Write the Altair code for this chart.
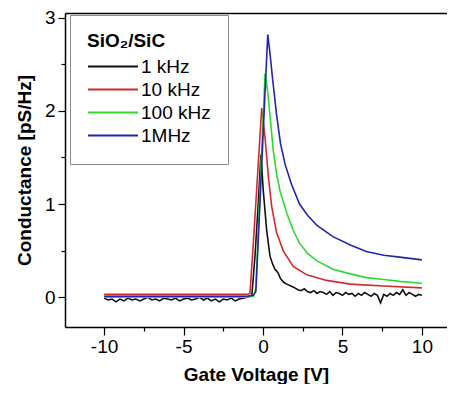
import altair as alt
import pandas as pd

series = ["1 kHz", "10 kHz", "100 kHz", "1MHz"]
colors = ["#111111", "#d02a2e", "#2fd82f", "#2323b0"]

# 1MHz (blue)
blue_v = [-10, -5, -1, -0.6, -0.45, -0.3, -0.1, 0.1, 0.3, 0.45, 0.6, 0.86, 1.1, 1.4,
          1.8, 2.3, 2.8, 3.4, 4.4, 5.5, 6.5, 7.6, 8.6, 10]
blue_g = [0.01, 0.01, 0.01, 0.02, 0.06, 0.6, 1.35, 2.09, 2.82, 2.6, 2.35, 1.95, 1.65, 1.42,
          1.21, 1.0, 0.88, 0.77, 0.65, 0.56, 0.49, 0.45, 0.43, 0.40]

# 100 kHz (green)
green_v = [-10, -5, -1, -0.6, -0.45, -0.3, -0.1, 0.13, 0.3, 0.44, 0.65, 0.85, 1.07, 1.5,
           1.9, 2.3, 2.8, 3.4, 4.4, 5.5, 6.5, 7.6, 8.6, 10]
green_g = [0.0, 0.0, 0.0, 0.01, 0.1, 0.7, 1.5, 2.40, 2.2, 1.95, 1.57, 1.33, 1.14, 0.90,
           0.72, 0.58, 0.47, 0.39, 0.30, 0.25, 0.21, 0.19, 0.17, 0.15]

# 10 kHz (red)
red_v = [-10, -5, -1, -0.82, -0.6, -0.4, -0.2, -0.08, 0.13, 0.34, 0.55, 0.86, 1.27, 1.9,
         2.76, 4.0, 5.5, 7.6, 10]
red_g = [0.03, 0.03, 0.03, 0.04, 0.6, 1.15, 1.7, 2.03, 1.71, 1.29, 0.97, 0.69, 0.50, 0.33,
         0.24, 0.18, 0.14, 0.12, 0.10]

# 1 kHz (black, noisy)
black_left_v = [-10 + 0.25 * i for i in range(37)]
black_left_g = [-0.01, -0.03, -0.02, -0.05, -0.02, -0.04, -0.01, -0.03, -0.02, -0.04,
                -0.02, 0.0, -0.03, -0.02, -0.04, -0.01, -0.02, -0.03, -0.01, -0.04,
                -0.02, -0.01, -0.03, -0.02, 0.0, -0.03, -0.01, -0.04, -0.02, -0.05,
                -0.02, -0.03, -0.01, -0.04, -0.02, -0.01, 0.0]
black_mid_v = [-0.7, -0.5, -0.3, -0.13, 0.02, 0.23, 0.44, 0.6, 0.75, 0.86, 0.95, 1.1,
               1.3, 1.5, 1.75, 2.0]
black_mid_g = [0.02, 0.45, 1.0, 1.53, 1.14, 0.72, 0.44, 0.36, 0.30, 0.28, 0.26, 0.20,
               0.16, 0.14, 0.12, 0.10]
black_right_v = [2.2 + 0.2 * i for i in range(40)]
black_right_g = [0.08, 0.07, 0.09, 0.06, 0.05, 0.07, 0.04, 0.06, 0.05, 0.03,
                 0.06, 0.02, 0.05, 0.04, 0.02, 0.05, 0.03, 0.04, 0.01, 0.04,
                 0.02, 0.05, 0.03, 0.01, 0.04, 0.02, -0.06, 0.03, 0.01, 0.04,
                 0.02, 0.05, 0.03, 0.08, 0.02, 0.05, 0.03, 0.01, 0.03, 0.02]
black_v = black_left_v + black_mid_v + black_right_v
black_g = black_left_g + black_mid_g + black_right_g

x_ticks = [-10, -7.5, -5, -2.5, 0, 2.5, 5, 7.5, 10]
y_ticks = [0, 0.5, 1, 1.5, 2, 2.5, 3]

rows = []
for name, xs, ys in [("1 kHz", black_v, black_g), ("10 kHz", red_v, red_g),
                     ("100 kHz", green_v, green_g), ("1MHz", blue_v, blue_g)]:
    for i, (x, y) in enumerate(zip(xs, ys)):
        rows.append({"series": name, "V": x, "G": y, "i": i})
df = pd.DataFrame(rows)

FONT = "Liberation Sans"
xscale = alt.Scale(domain=[-12.46, 11.58], nice=False, zero=False)
yscale = alt.Scale(domain=[-0.32, 3.05], nice=False, zero=False)

lines = alt.Chart(df).mark_line(strokeWidth=1.6, clip=True).encode(
    x=alt.X("V:Q", scale=xscale,
            axis=alt.Axis(orient="bottom", values=x_ticks, title="Gate Voltage [V]",
                          labelExpr="datum.value % 5 === 0 ? '' + datum.value : ''",
                          tickSize={"condition": {"test": "datum.value % 5 === 0", "value": 8}, "value": 4},
                          labelPadding=2, titlePadding=9)),
    y=alt.Y("G:Q", scale=yscale,
            axis=alt.Axis(values=y_ticks, title="Conductance [pS/Hz]",
                          labelExpr="datum.value % 1 === 0 ? '' + datum.value : ''",
                          tickSize={"condition": {"test": "datum.value % 1 === 0", "value": 7}, "value": 4},
                          labelPadding=3, titlePadding=10)),
    color=alt.Color("series:N", scale=alt.Scale(domain=series, range=colors),
                    legend=alt.Legend(title="SiO₂/SiC", orient="none", legendX=5, legendY=2,
                                      padding=17, strokeColor="#8a8a8a", fillColor="white",
                                      symbolType="stroke", symbolSize=2500, symbolStrokeWidth=2,
                                      clipHeight=23, rowPadding=0, labelOffset=2,
                                      titlePadding=4)),
    order=alt.Order("i:Q"),
)

# top frame line as a bare top axis
top = alt.Chart(df).mark_line(opacity=0).encode(
    x=alt.X("V:Q", scale=xscale,
            axis=alt.Axis(orient="top", labels=False, ticks=False, title=None, domain=True)),
    y=alt.Y("G:Q", scale=yscale),
    detail="series:N",
)

chart = alt.layer(lines, top).resolve_axis(x="independent").properties(
    width=382, height=314,
    autosize=alt.AutoSizeParams(type="none"),
    padding={"left": 57, "top": 5, "right": 0, "bottom": 57},
).configure_view(
    strokeWidth=0
).configure_axis(
    grid=False, domainColor="black", domainWidth=1.5, tickColor="black", tickWidth=1.2,
    labelFont=FONT, labelFontSize=19, labelColor="black",
    titleFont=FONT, titleFontSize=19, titleFontWeight="bold", titleColor="black",
).configure_legend(
    labelFont=FONT, labelFontSize=19, labelColor="black",
    titleFont=FONT, titleFontSize=19, titleFontWeight="bold", titleColor="black",
)

chart.save("out.html", embed_options={"renderer": "svg", "actions": False})
